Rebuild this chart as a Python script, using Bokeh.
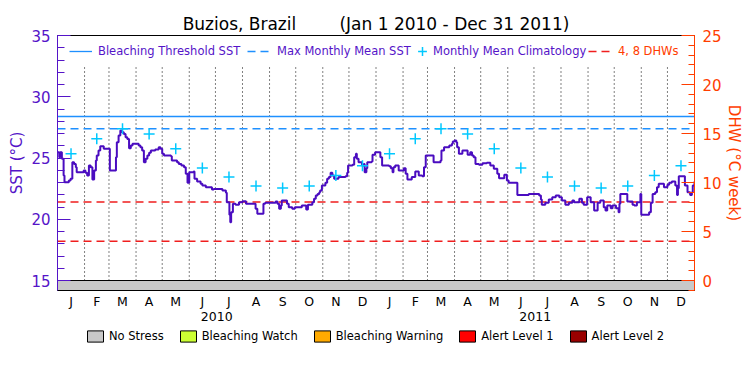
import pandas as pd
from bokeh.plotting import figure
from bokeh.layouts import column
from bokeh.models import (Range1d, LinearAxis, FixedTicker, SingleIntervalTicker, Legend, LegendItem)
from bokeh.embed import file_html
from bokeh.resources import INLINE

# ---------------- data ----------------
title_text = "Buzios, Brazil" + "\u00a0" * 8 + "(Jan 1 2010 - Dec 31 2011)"
start = pd.Timestamp("2010-01-01")
month_starts = pd.date_range("2010-01-01", "2012-01-01", freq="MS")
month_start_days = [(d - start).days for d in month_starts]
month_mid_days = [(a + b) / 2 for a, b in zip(month_start_days[:-1], month_start_days[1:])]
month_letters = ["J", "F", "M", "A", "M", "J", "J", "A", "S", "O", "N", "D"] * 2
year_labels = ["2010", "2011"]
year_mid_days = [182.5, 547.5]

climatology = [25.34, 26.57, 27.39, 26.95, 25.75, 24.19, 23.45, 22.72, 22.56, 22.72, 23.57, 24.36]
mmm = 27.39
threshold = 28.39
dhw_levels = [4, 8]

sst_day = [0, 2, 3, 5, 7, 8, 11, 13, 15, 17, 19, 21, 22, 26, 30, 32, 34, 36, 38, 40, 42, 44, 45, 47, 49,
           53, 59, 60, 66, 67, 68, 70, 72, 74, 76, 78, 80, 82, 84, 86, 89, 93, 95, 97, 99, 101, 103, 105,
           107, 112, 116, 118, 120, 122, 130, 131, 137, 139, 142, 145, 147, 149, 151, 156, 157, 160, 164,
           166, 170, 175, 177, 179,
           185, 189, 193, 194, 197, 198, 199, 201, 204, 208, 212, 216, 223, 227, 229, 234, 236, 238, 248,
           250, 252, 254, 256, 257, 261, 263, 265, 269, 272, 280, 285, 287, 292, 294, 296, 298, 300, 301,
           303, 307, 309, 311, 313, 315, 317, 322, 330, 332, 333, 338, 340, 342, 343, 345, 349, 351, 352,
           354, 355, 360, 361, 364,
           369, 370, 372, 380, 382, 384, 385, 387, 391, 397, 399, 401, 405, 406, 410, 414, 418, 420, 422,
           429, 431, 437, 439, 440, 443, 449, 452, 453, 455, 457, 458, 460, 464, 470, 473, 475, 477, 479,
           483, 487, 492, 496, 500, 504, 506, 512, 515, 517, 525, 527, 536, 540, 548, 552, 554,
           555, 559, 563, 567, 571, 575, 578, 582, 586, 590, 592, 598, 601, 603, 607, 611, 615, 619, 622,
           626, 628, 630, 634, 636, 640, 643, 644, 645, 649, 653, 659, 661, 664, 668, 669, 678, 680, 682,
           685, 687, 689, 693, 695, 699, 701, 704, 708, 710, 711, 712, 718, 719, 722, 725, 727, 728, 730]
sst_value = [25.48, 25.07, 25.48, 24.93, 23.57, 23.03, 23.03, 23.16, 23.30, 24.66, 24.52, 24.25, 23.84,
             23.84, 23.98, 23.79, 23.57, 24.39, 24.25, 23.24, 23.98, 24.80, 25.20, 25.61, 25.97,
             25.75, 25.75, 23.98, 23.98, 25.07, 26.29, 26.84, 27.24, 27.11, 26.97, 26.70, 26.56, 25.80,
             26.02, 26.16, 26.16, 26.02, 25.88, 25.61, 24.66, 24.93, 25.20, 25.42,
             25.61, 25.69, 25.88, 25.75, 25.34, 25.20, 25.15, 24.80, 24.66, 24.52, 24.39, 24.25, 23.71,
             22.97, 23.84, 23.90, 23.30, 23.08, 22.89,
             22.76, 22.62, 22.62, 22.43, 22.48,
             22.48, 22.35, 22.16, 21.39, 20.36, 19.76, 20.58, 21.26, 21.18, 21.39, 21.48, 21.26, 21.26,
             20.85, 20.44, 20.44, 21.26, 21.34, 21.34,
             21.45, 21.26, 20.85, 21.12, 21.53, 21.53, 21.26, 20.99, 20.85, 20.99, 21.12, 20.80, 21.18,
             21.39, 21.67, 21.94, 22.07, 22.21, 22.35,
             22.76, 22.97, 23.30, 23.44, 23.79, 23.57, 23.30, 23.44, 23.52, 23.79, 24.39, 24.44, 25.07,
             25.34, 24.93, 24.66, 24.39, 24.52, 23.84,
             24.17, 24.66, 24.71, 25.26, 25.48,
             25.48, 25.07, 24.39, 24.33, 24.17, 23.84, 24.25, 24.39, 23.98, 24.17, 23.71, 23.24, 23.24,
             23.44, 23.90, 23.57, 23.52, 24.25, 25.20,
             25.20, 24.66, 24.66, 24.80, 25.61, 25.88, 26.02, 26.16, 26.35, 26.43, 26.29, 25.88, 25.34,
             25.61, 25.26, 25.48, 25.20, 25.07, 24.52,
             24.44, 24.58, 24.61, 24.39, 24.12, 23.71, 23.35, 23.63, 23.16, 22.97, 22.97, 21.99, 21.99,
             22.07, 22.07, 21.94, 21.61,
             21.18, 21.34, 21.61, 21.80, 21.94, 21.80, 21.53, 21.18, 21.34, 21.53, 21.39, 21.67, 21.34,
             21.18, 21.80, 21.39, 20.71, 21.34, 21.53,
             20.99, 20.71, 21.12, 20.90, 21.12, 20.90, 20.58, 21.26, 22.07, 22.07, 21.45, 21.18, 21.12,
             21.39, 22.07, 20.36, 20.58, 21.34, 22.07,
             22.21, 22.62, 22.89, 22.89, 22.62, 22.81, 22.97, 23.08, 22.76, 21.99, 22.54, 23.52, 23.52,
             22.76, 22.21, 21.99, 22.21, 22.76, 23.08]

status_names = ["No Stress", "Bleaching Watch", "Bleaching Warning", "Alert Level 1", "Alert Level 2"]
status_colors = ["#c8c8c8", "#ccff33", "#ffaa00", "#ff0000", "#990000"]

# ---------------- style ----------------
FONT = "DejaVu Sans"
PURPLE = "#5514c8"
LINE_PURPLE = "#4a0cc0"
ORANGE = "#ff3d00"
RED = "#f01e1e"
BLUE = "#1e90ff"
CYAN = "#00c8ff"

sst_min = 15.0
sst_bottom = 14.184
sst_top = 35.0
dhw_scale = 1.25  # DHW per degC on the shared frame
grid_top = 32.55

x0, x1 = month_start_days[0], month_start_days[-1]

p = figure(width=750, height=325, output_backend="svg", toolbar_location=None,
           x_range=Range1d(x0, x1), y_range=Range1d(sst_bottom, sst_top + 0.001),
           min_border_left=57, min_border_right=56, min_border_top=35, min_border_bottom=35,
           title=title_text)
p.extra_y_ranges = {"dhw": Range1d((sst_bottom - sst_min) * dhw_scale, (sst_top - sst_min) * dhw_scale + 0.001)}
p.xgrid.visible = False
p.ygrid.visible = False
p.outline_line_color = "black"
p.background_fill_color = "white"
p.border_fill_color = "white"

p.title.align = "center"
p.title.text_font = FONT
p.title.text_font_size = "17px"
p.title.text_font_style = "normal"
p.title.text_color = "black"
p.title.standoff = 3

# no-stress bar
p.quad(left=[x0], right=[x1], bottom=[sst_bottom], top=[sst_min],
       fill_color=status_colors[0], line_color="black", line_width=1)

# month separators
sep = month_start_days[1:-1]
p.segment(x0=sep, x1=sep, y0=[sst_min] * len(sep), y1=[grid_top] * len(sep),
          line_color="black", line_dash="1 3", line_width=1)

# DHW levels
dhw_r = None
for lev in dhw_levels:
    r = p.line([x0, x1], [lev, lev], y_range_name="dhw", line_color=RED, line_dash="8 5", line_width=1.5)
    dhw_r = dhw_r or r

thr_r = p.line([x0, x1], [threshold, threshold], line_color=BLUE, line_width=1.3)
mmm_r = p.line([x0, x1], [mmm, mmm], line_color=BLUE, line_dash="8 5", line_width=1.3)

p.step(sst_day, sst_value, mode="after", line_color=LINE_PURPLE, line_width=2)

clim_r = p.scatter(month_mid_days, climatology * 2, marker="cross", size=11,
                   line_color=CYAN, line_width=1.5)

# left axis
ya = p.yaxis[0]
ya.ticker = SingleIntervalTicker(interval=5, num_minor_ticks=5)
ya.axis_line_color = PURPLE
ya.major_tick_line_color = PURPLE
ya.minor_tick_line_color = PURPLE
ya.major_tick_in = 13
ya.major_tick_out = 0
ya.minor_tick_in = 7
ya.minor_tick_out = 0
ya.major_label_text_color = PURPLE
ya.major_label_text_font = FONT
ya.major_label_text_font_size = "15px"
ya.major_label_standoff = 7
ya.axis_label = "SST (°C)"
ya.axis_label_text_color = PURPLE
ya.axis_label_text_font = FONT
ya.axis_label_text_font_size = "15px"
ya.axis_label_text_font_style = "normal"
ya.axis_label_standoff = 2

# right axis
ra = LinearAxis(y_range_name="dhw", ticker=SingleIntervalTicker(interval=5, num_minor_ticks=5))
ra.axis_line_color = ORANGE
ra.major_tick_line_color = ORANGE
ra.minor_tick_line_color = ORANGE
ra.major_tick_in = 13
ra.major_tick_out = 0
ra.minor_tick_in = 6
ra.minor_tick_out = 0
ra.major_label_text_color = ORANGE
ra.major_label_text_font = FONT
ra.major_label_text_font_size = "15px"
ra.major_label_standoff = 8
ra.axis_label = "DHW (°C week)"
ra.axis_label_text_color = ORANGE
ra.axis_label_text_font = FONT
ra.axis_label_text_font_size = "15px"
ra.axis_label_text_font_style = "normal"
ra.axis_label_standoff = 0
p.add_layout(ra, "right")

# bottom month axis
xa = p.xaxis[0]
xa.ticker = FixedTicker(ticks=month_mid_days, minor_ticks=[])
xa.major_label_overrides = {d: m for d, m in zip(month_mid_days, month_letters)}
xa.axis_line_color = "black"
xa.major_tick_in = 0
xa.major_tick_out = 0
xa.minor_tick_in = 0
xa.minor_tick_out = 0
xa.major_label_text_font = FONT
xa.major_label_text_font_size = "12.5px"
xa.major_label_text_color = "black"
xa.major_label_standoff = 3

yr = LinearAxis(ticker=FixedTicker(ticks=year_mid_days, minor_ticks=[]))
yr.major_label_overrides = {d: y for d, y in zip(year_mid_days, year_labels)}
yr.axis_line_color = None
yr.major_tick_line_color = None
yr.minor_tick_line_color = None
yr.major_tick_in = 0
yr.major_tick_out = 0
yr.major_label_text_font = FONT
yr.major_label_text_font_size = "12.5px"
yr.major_label_text_color = "black"
yr.major_label_standoff = 0
p.add_layout(yr, "below")


def make_legend(fig, items, loc, gw, gh, standoff, color, size, spacing=0):
    lg = Legend(items=items, location=loc,
                orientation="horizontal", glyph_width=gw, glyph_height=gh, label_height=gh,
                label_standoff=standoff, padding=0, margin=0, spacing=spacing,
                border_line_color=None, background_fill_alpha=0, inactive_fill_alpha=0,
                label_text_font=FONT, label_text_font_size=size, label_text_color=color)
    fig.add_layout(lg)
    return lg


# top legends (inside frame)
make_legend(p, [LegendItem(label="Bleaching Threshold SST", renderers=[thr_r])], (12, 232), 23, 14, 6, PURPLE, "11.5px")
make_legend(p, [LegendItem(label="Max Monthly Mean SST", renderers=[mmm_r])], (190, 232), 22, 14, 8, PURPLE, "11.5px")
make_legend(p, [LegendItem(label="Monthly Mean Climatology", renderers=[clim_r])], (354, 227), 22, 24, 0, PURPLE, "11.5px")
make_legend(p, [LegendItem(label="4, 8 DHWs", renderers=[dhw_r])], (531, 232), 23, 14, 7, ORANGE, "11.5px")

# status legend strip below the chart (frame aligned with the chart frame)
leg_fig = figure(width=750, height=50, output_backend="svg", toolbar_location=None,
                 x_range=Range1d(x0, x1), y_range=Range1d(sst_bottom, sst_min), min_border=0,
                 x_axis_location=None, y_axis_location=None)
leg_fig.outline_line_color = None
leg_fig.xgrid.visible = False
leg_fig.ygrid.visible = False
status_items = []
for n, c in zip(status_names, status_colors):
    r = leg_fig.quad(left=[x0], right=[x1], top=[sst_min], bottom=[sst_bottom],
                     fill_color=c, line_color="black", line_width=1, visible=False)
    status_items.append(LegendItem(label=n, renderers=[r]))
make_legend(leg_fig, status_items, (28, 32.5), 20, 14, 4, "black", "11.5px", spacing=14)

layout = column(p, leg_fig, spacing=0)
open("out.html", "w").write(file_html(layout, INLINE))
